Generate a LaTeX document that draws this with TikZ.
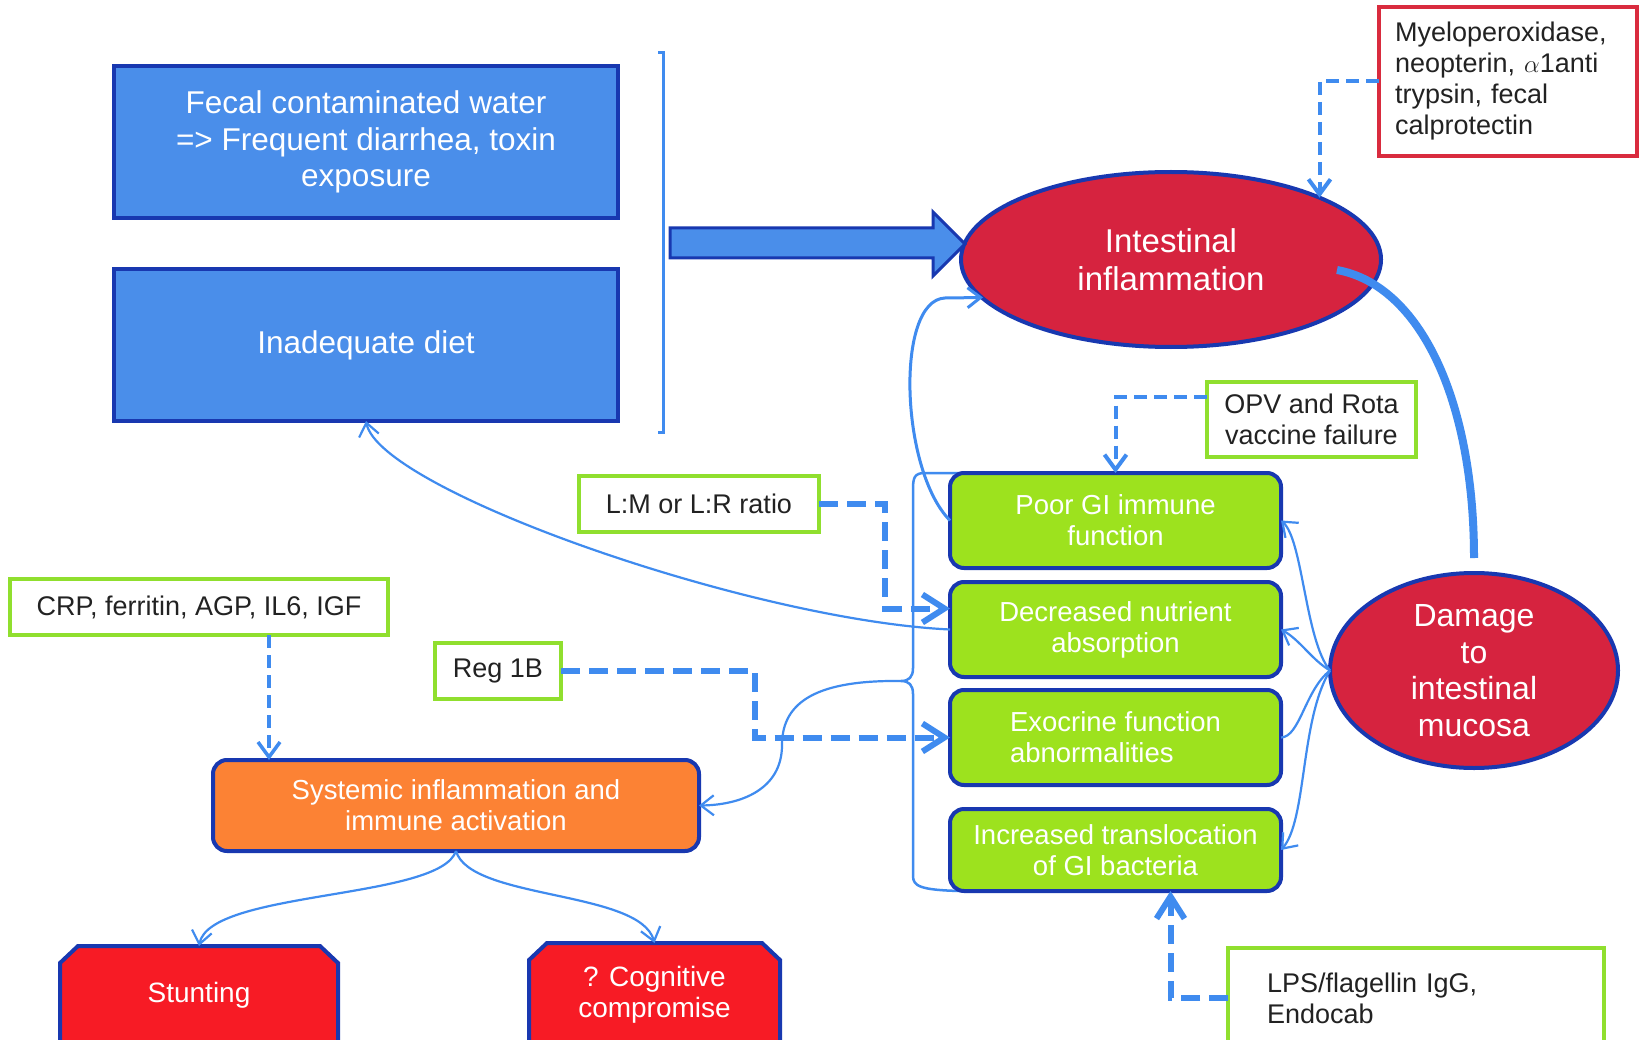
\documentclass[tikz,border=0pt]{standalone}
\usepackage{fontspec}
\setmainfont{Liberation Sans}
\usetikzlibrary{arrows.meta,calc,backgrounds,shapes.geometric}

\definecolor{fillblue}{HTML}{4A8EEA}
\definecolor{navy}{HTML}{1838B0}
\definecolor{linkblue}{HTML}{3F8BEF}
\definecolor{crimson}{HTML}{D6233F}
\definecolor{limegreen}{HTML}{9DE21E}
\definecolor{framegreen}{HTML}{90DF2E}
\definecolor{framered}{HTML}{D92B3E}
\definecolor{orangefill}{HTML}{FC8234}
\definecolor{redfill}{HTML}{F71B25}
\definecolor{ink}{HTML}{222222}

\tikzset{
  every node/.style={inner sep=0pt, outer sep=0pt},
  causebox/.style={rectangle, draw=navy, line width=4pt, fill=fillblue, text=white, align=center,
    minimum width=504pt, minimum height=152pt, font=\fontsize{31.5}{36.5}\selectfont},
  redoval/.style={ellipse, draw=navy, line width=4pt, fill=crimson, text=white, align=center},
  gutbox/.style={rectangle, rounded corners=14pt, draw=navy, line width=4pt, fill=limegreen, text=white,
    minimum width=331pt, minimum height=95pt, align=center, font=\fontsize{27.5}{31}\selectfont},
  markerbox/.style={rectangle, draw=framegreen, line width=3.5pt, fill=white, text=ink, align=center,
    font=\fontsize{27}{31}\selectfont},
  outcome/.style={rectangle, text=white, align=center, font=\fontsize{28}{31}\selectfont, minimum height=98pt},
  link/.style={draw=linkblue, line width=2.2pt},
  linkarrow/.style={link, -{Straight Barb[length=13pt,width=20pt]}},
  probe/.style={draw=linkblue, line width=4pt, dash pattern=on 13pt off 7pt,
    -{Straight Barb[length=15pt,width=22pt]}},
  probethick/.style={draw=linkblue, line width=6pt, dash pattern=on 19pt off 9pt,
    -{Straight Barb[length=22pt,width=28pt]}},
}

\begin{document}
\begin{tikzpicture}[x=1pt,y=-1pt]
\useasboundingbox (0,0) rectangle (1640,1040);

% exposures
\node[causebox] (water) at (366,142) {Fecal contaminated water\\=> Frequent diarrhea, toxin\\exposure};
\node[causebox] (diet) at (366,345) {Inadequate diet};

% gut-level nodes
\node[redoval, minimum width=420pt, minimum height=175pt, font=\fontsize{33}{37.5}\selectfont]
  (infl) at (1171,259.5) {Intestinal\\inflammation};
\node[markerbox, draw=framered, text width=226pt, inner xsep=16pt, minimum height=149pt, align=left]
  (myelo) at (1508,81.5) {Myeloperoxidase,\\neopterin, $\alpha$1anti\\trypsin, fecal\\calprotectin};
\node[redoval, minimum width=288pt, minimum height=195pt, font=\fontsize{32}{36.5}\selectfont]
  (damage) at (1474,670.5) {Damage\\to\\intestinal\\mucosa};
\node[markerbox, minimum width=209pt, minimum height=75pt] (opv) at (1311.5,419.5) {OPV and Rota\\vaccine failure};

\node[gutbox] (poor) at (1115.5,520.5) {Poor GI immune\\function};
\node[gutbox] (decr) at (1115.5,629.5) {Decreased nutrient\\absorption};
\node[gutbox, align=left] (exo) at (1115.5,737.5) {Exocrine function\\abnormalities};
\node[gutbox, minimum height=82pt] (transl) at (1115.5,850) {Increased translocation\\of GI bacteria};

% biomarker boxes
\node[markerbox, minimum width=240pt, minimum height=56pt] (lm) at (699,504) {L:M or L:R ratio};
\node[markerbox, minimum width=378pt, minimum height=56pt] (crp) at (199,607) {CRP, ferritin, AGP, IL6, IGF};
\node[markerbox, minimum width=126pt, minimum height=56pt] (reg) at (498,671) {Reg 1B};
\node[markerbox, text width=298pt, inner xsep=39pt, minimum height=100pt, align=left]
  (lps) at (1416,998) {LPS/flagellin IgG,\\Endocab};

% systemic level and outcomes
\node[rectangle, rounded corners=14pt, draw=navy, line width=4pt, fill=orangefill, text=white, align=center,
  minimum width=486pt, minimum height=91pt, font=\fontsize{27.5}{31}\selectfont]
  (sys) at (456,805.5) {Systemic inflammation and\\immune activation};
\node[outcome, minimum width=278pt] (stunt) at (199,995) {Stunting};
\node[outcome, minimum width=251pt, minimum height=104pt] (cog) at (654.5,995) {? Cognitive\\compromise};

\coordinate (bracetip) at (901,681);
\coordinate (crpout) at ($(crp.south)+(70,0)$);

\begin{pgfonlayer}{background}
  \fill[white] (0,0) rectangle (1640,1040);
  % chamfered outcome boxes
  \filldraw[fill=redfill, draw=navy, line width=4pt]
    (stunt.south west) -- ($(stunt.north west)+(0,17)$) -- ($(stunt.north west)+(18,0)$)
    -- ($(stunt.north east)+(-18,0)$) -- ($(stunt.north east)+(0,17)$) -- (stunt.south east);
  \filldraw[fill=redfill, draw=navy, line width=4pt]
    (cog.south west) -- ($(cog.north west)+(0,17)$) -- ($(cog.north west)+(18,0)$)
    -- ($(cog.north east)+(-18,0)$) -- ($(cog.north east)+(0,17)$) -- (cog.south east);
  % brace grouping the four gut boxes
  \draw[link, line width=2.5pt]
    ($(poor.north west)+(10,0)$) -- (925,473) .. controls (914,473) and (913,478) .. (913,490)
    -- (913,668) .. controls (913,677) and (909,681) .. (bracetip)
    .. controls (909,681) and (913,685) .. (913,694)
    -- (913,876) .. controls (913,886) and (920,890) .. ($(transl.south west)+(10,0)$);
\end{pgfonlayer}

% bracket and broad arrow into intestinal inflammation
\draw[link, line width=3pt] (658,53) -- (663,53) -- (663,432) -- (658,432);
\filldraw[fill=fillblue, draw=navy, line width=3pt]
  (670,228) -- (933,228) -- (933,212) -- (965,244) -- (933,276) -- (933,258) -- (670,258) -- cycle;

% inflammation to mucosal damage
\draw[linkblue, line width=8pt] ($(infl.center)+(166,10.5)$) .. controls (1420,285) and ($(damage.north)+(0,-173)$) .. ($(damage.north)+(0,-15)$);

% damage fans out to the gut functions
\draw[linkarrow] (damage.west) .. controls (1305,640) and (1303,540) .. (poor.east);
\draw[linkarrow] (damage.west) .. controls (1312,660) and (1300,640) .. (decr.east);
\draw[link] (damage.west) .. controls (1305,690) and (1300,737) .. (exo.east);
\draw[linkarrow] (damage.west) .. controls (1300,720) and (1307,820) .. (transl.east);

% feedback loops
\draw[linkarrow, line width=3pt] (poor.west) .. controls (900,470) and (895,300) .. (945,298) -- ($(infl.center)+(-188,38)$);
\draw[linkarrow] (decr.west) .. controls (750,620) and (380,490) .. (diet.south);
\draw[linkarrow] (bracetip) .. controls (820,680) and (782,700) .. (782,745) .. controls (782,790) and (740,805) .. (sys.east);

% systemic consequences
\draw[linkarrow] (sys.south) .. controls (440,900) and (210,890) .. (stunt.north);
\draw[linkarrow] (sys.south) .. controls (470,900) and (640,890) .. (cog.north);

% biomarker pointers
\draw[probe] (myelo.west) -| (infl.north east);
\draw[probe] ($(opv.north west)+(0,15)$) -| (poor.north);
\draw[probe, line width=3.5pt] (crpout) -- (crpout |- sys.north);
\draw[probethick] (lm.east) -| ($(decr.west)+(-65,-21)$) -- ($(decr.west)+(0,-21)$);
\draw[probethick] (reg.east) -| ($(exo.west)+(-195,0)$) -- (exo.west);
\draw[probethick] (lps.west) -| ($(transl.south)+(55,0)$);
\end{tikzpicture}
\end{document}
